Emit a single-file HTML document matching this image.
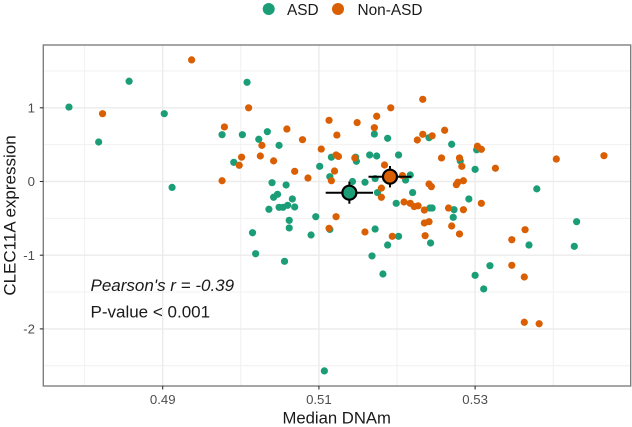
<!DOCTYPE html>
<html>
<head>
<meta charset="utf-8">
<title>CLEC11A expression vs Median DNAm</title>
<style>
html,body{margin:0;padding:0;background:#fff;}
body{width:632px;height:427px;overflow:hidden;}
svg{display:block;font-family:"Liberation Sans",sans-serif;}
</style>
</head>
<body>
<svg id="chart" width="632" height="427" viewBox="0 0 632 427" xmlns="http://www.w3.org/2000/svg">
  <rect x="0" y="0" width="632" height="427" fill="#ffffff"/>
  <g id="grid"></g>
  <g id="asd-points"></g>
  <g id="non-points"></g>
  <g id="means"></g>
  <rect x="43.3" y="45" width="587.4" height="341" fill="none" stroke="#7f7f7f" stroke-width="1.4"/>
  <g id="ticks"></g>
  <text x="336.7" y="423.5" text-anchor="middle" font-size="16.7" fill="#1a1a1a">Median DNAm</text>
  <text transform="translate(15.5,215.5) rotate(-90)" text-anchor="middle" font-size="17" fill="#1a1a1a">CLEC11A expression</text>
  <text x="90.5" y="291" font-size="17" font-style="italic" fill="#1a1a1a">Pearson's r = -0.39</text>
  <text x="90.5" y="317.3" font-size="17" fill="#1a1a1a">P-value &lt; 0.001</text>
  <g>
    <circle cx="268.7" cy="9" r="6" fill="#1b9e77"/>
    <text x="287" y="15" font-size="15.4" fill="#1a1a1a">ASD</text>
    <circle cx="338" cy="9" r="6" fill="#d95f02"/>
    <text x="357.5" y="15" font-size="15.4" fill="#1a1a1a">Non-ASD</text>
  </g>
</svg>
<script>
const xMajorTicks = [0.49, 0.51, 0.53];
const xMinorTicks = [0.48, 0.50, 0.52, 0.54];
const yMajorTicks = [1, 0, -1, -2];
const yMinorTicks = [1.5, 0.5, -0.5, -1.5, -2.5];
const xTickLabels = ["0.49", "0.51", "0.53"];
const yTickLabels = ["1", "0", "-1", "-2"];

const asdX = [0.4780,0.4857,0.4902,0.4818,0.4976,0.4991,0.4912,0.5008,0.5002,0.5034,0.5023,0.5049,0.5116,0.5101,0.5147,0.5148,0.5165,0.5174,0.5202,0.5171,0.5188,0.5114,0.5143,0.5159,0.5172,0.5217,0.5211,0.5175,0.5220,0.5199,0.5040,0.5058,0.5042,0.5047,0.5066,0.5036,0.5049,0.5054,0.5060,0.5069,0.5062,0.5062,0.5096,0.5090,0.5015,0.5019,0.5056,0.5114,0.5172,0.5202,0.5188,0.5168,0.5182,0.5107,0.5241,0.5270,0.5302,0.5281,0.5300,0.5379,0.5292,0.5242,0.5245,0.5273,0.5272,0.5243,0.5430,0.5369,0.5427,0.5319,0.5300,0.5311];
const asdY = [1.01,1.36,0.92,0.536,0.635,0.26,-0.08,1.346,0.635,0.676,0.573,0.49,0.33,0.206,0.33,0.274,0.36,0.346,0.36,0.644,0.586,0.065,0,-0.01,0.04,0.088,0.02,-0.15,-0.15,-0.296,-0.016,-0.047,-0.214,-0.174,-0.237,-0.377,-0.35,-0.35,-0.323,-0.346,-0.527,-0.63,-0.478,-0.726,-0.695,-0.98,-1.083,-0.65,-0.645,-0.744,-0.862,-1.01,-1.255,-2.57,0.594,0.505,0.43,0.28,0.165,-0.10,-0.237,-0.36,-0.36,-0.383,-0.486,-0.834,-0.545,-0.862,-0.88,-1.142,-1.273,-1.458];

const nonAsdX = [0.4937,0.4823,0.4979,0.4976,0.4998,0.5001,0.5010,0.5059,0.5079,0.5027,0.5025,0.5042,0.5069,0.5086,0.5103,0.5113,0.5123,0.5149,0.5174,0.5171,0.5192,0.5122,0.5125,0.5146,0.5120,0.5116,0.5184,0.5207,0.5180,0.5180,0.5209,0.5217,0.5222,0.5227,0.5226,0.5233,0.5233,0.5245,0.5261,0.5257,0.5280,0.5283,0.5303,0.5308,0.5326,0.5404,0.5465,0.5241,0.5244,0.5276,0.5278,0.5285,0.5308,0.5266,0.5285,0.5235,0.5235,0.5241,0.5270,0.5236,0.5280,0.5364,0.5347,0.5347,0.5363,0.5363,0.5382,0.5122,0.5113,0.5159,0.5194];
const nonAsdY = [1.65,0.92,0.74,0.01,0.22,0.33,1.0,0.712,0.567,0.49,0.346,0.28,0.138,0.047,0.44,0.83,0.63,0.80,0.885,0.73,1.0,0.36,0.34,0.32,0.142,0.01,0.224,0.08,-0.09,-0.214,-0.278,-0.296,-0.34,-0.33,0.563,1.115,0.64,0.62,0.695,0.32,0.32,0.206,0.478,0.437,0.18,0.305,0.35,-0.034,-0.07,-0.043,-0.01,0.01,-0.296,-0.36,-0.383,-0.387,-0.563,-0.545,-0.604,-0.735,-0.712,-0.654,-0.79,-1.137,-1.296,-1.91,-1.93,-0.478,-0.635,-0.685,-0.744];

const meanGroups = ["asd", "non-asd"];
const meanX = [0.5139, 0.5191];
const meanY = [-0.152, 0.065];
const meanXErr = [0.00303, 0.00275];
const meanYErr = [0.15, 0.145];
const meanColors = ["#1b9e77", "#d95f02"];

const NS = "http://www.w3.org/2000/svg";
function xScale(v){ return 162.7 + (v - 0.49) * 7810; }
function yScale(v){ return 181.5 - v * 73.7; }
const panelL = 43.3, panelR = 630.7, panelT = 45, panelB = 386;

function svgEl(tag, attrs, parent){
  const el = document.createElementNS(NS, tag);
  for (const k in attrs) el.setAttribute(k, attrs[k]);
  parent.appendChild(el);
  return el;
}

const grid = document.getElementById("grid");
xMinorTicks.forEach(function(t){
  const el = svgEl("line", {x1:xScale(t), x2:xScale(t), y1:panelT, y2:panelB, stroke:"#efefef", "stroke-width":0.9}, grid);
  
  
});
yMinorTicks.forEach(function(t){
  const el = svgEl("line", {x1:panelL, x2:panelR, y1:yScale(t), y2:yScale(t), stroke:"#efefef", "stroke-width":0.9}, grid);
  
  
});
xMajorTicks.forEach(function(t){
  const el = svgEl("line", {x1:xScale(t), x2:xScale(t), y1:panelT, y2:panelB, stroke:"#ebebeb", "stroke-width":1.4}, grid);
  
  
});
yMajorTicks.forEach(function(t){
  const el = svgEl("line", {x1:panelL, x2:panelR, y1:yScale(t), y2:yScale(t), stroke:"#ebebeb", "stroke-width":1.4}, grid);
  
  
});

const asdLayer = document.getElementById("asd-points");
asdX.forEach(function(v, i){
  const c = svgEl("circle", {cx:xScale(v), cy:yScale(asdY[i]), r:3.6, fill:"#1b9e77"}, asdLayer);
  
  
});
const nonLayer = document.getElementById("non-points");
nonAsdX.forEach(function(v, i){
  const c = svgEl("circle", {cx:xScale(v), cy:yScale(nonAsdY[i]), r:3.6, fill:"#d95f02"}, nonLayer);
  
  
});

const meansLayer = document.getElementById("means");
meanX.forEach(function(v, i){
  const cx = xScale(v), cy = yScale(meanY[i]);
  const h = svgEl("line", {x1:xScale(v - meanXErr[i]), x2:xScale(v + meanXErr[i]), y1:cy, y2:cy, stroke:"#000", "stroke-width":2}, meansLayer);
  
  
  const w = svgEl("line", {x1:cx, x2:cx, y1:yScale(meanY[i] - meanYErr[i]), y2:yScale(meanY[i] + meanYErr[i]), stroke:"#000", "stroke-width":2}, meansLayer);
  
  
  const c = svgEl("circle", {cx:cx, cy:cy, r:7, fill:meanColors[i], stroke:"#000", "stroke-width":2.2}, meansLayer);
  
  
});

const ticks = document.getElementById("ticks");
xMajorTicks.forEach(function(t, i){
  const l = svgEl("line", {x1:xScale(t), x2:xScale(t), y1:panelB, y2:panelB + 3.5, stroke:"#333", "stroke-width":1.1}, ticks);
  
  
  const txt = svgEl("text", {x:xScale(t), y:404, "text-anchor":"middle", "font-size":13.2, fill:"#4d4d4d"}, ticks);
  txt.textContent = xTickLabels[i];
  
  
});
yMajorTicks.forEach(function(t, i){
  const l = svgEl("line", {x1:panelL - 3.5, x2:panelL, y1:yScale(t), y2:yScale(t), stroke:"#333", "stroke-width":1.1}, ticks);
  
  
  const txt = svgEl("text", {x:35, y:yScale(t) + 4.7, "text-anchor":"end", "font-size":13.2, fill:"#4d4d4d"}, ticks);
  txt.textContent = yTickLabels[i];
  
  
});
</script>
</body>
</html>
